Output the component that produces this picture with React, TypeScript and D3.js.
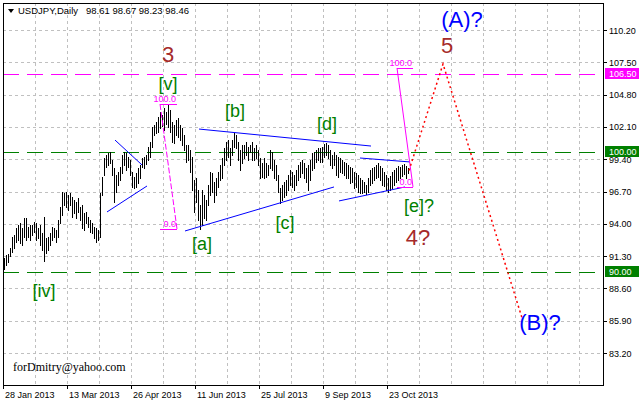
import React from 'react';
import * as d3 from 'd3';

// ---- data ----
const symbolName = 'USDJPY,Daily';
const lastOHLC = [98.61, 98.67, 98.23, 98.46];

const highs = [
  91.14, 91.39, 91.48, 91.98, 92.89, 93.06, 93.65, 93.90, 94.07, 93.65,
  94.48, 94.48, 93.73, 93.90, 93.90, 94.15, 94.07, 93.65, 93.90, 93.23,
  94.57, 92.81, 92.89, 93.23, 93.73, 93.65, 93.48, 94.32, 95.40, 96.66,
  96.58, 96.66, 96.41, 96.58, 96.24, 95.99, 95.82, 96.16, 95.40, 95.57,
  94.90, 94.99, 94.57, 94.32, 94.07, 93.73, 93.65, 93.48, 96.58, 97.91,
  99.50, 99.75, 99.92, 100.00, 99.33, 98.67, 98.08, 98.33, 98.75, 99.75,
  100.00, 99.92, 99.58, 99.33, 98.33, 97.91, 98.25, 98.67, 98.92, 99.50,
  99.58, 99.75, 100.42, 100.84, 102.09, 102.26, 102.51, 102.93, 103.35, 103.10,
  103.68, 103.35, 103.93, 103.51, 102.51, 102.26, 102.68, 102.84, 102.26, 102.01,
  101.42, 100.59, 100.59, 100.17, 99.58, 97.66, 97.83, 96.83, 95.57, 96.83,
  96.41, 95.99, 97.24, 98.33, 98.25, 97.49, 97.83, 98.33, 98.92, 99.50,
  100.34, 100.84, 101.01, 100.34, 101.01, 101.59, 101.42, 100.84, 100.17, 100.59,
  100.59, 100.84, 100.42, 100.59, 100.84, 100.34, 100.59, 100.17, 99.50, 99.08,
  99.50, 99.08, 98.92, 100.17, 100.00, 99.33, 98.92, 98.08, 96.99, 97.24,
  97.49, 97.66, 98.08, 98.50, 98.33, 98.08, 98.50, 98.92, 99.17, 99.33,
  99.08, 98.67, 98.92, 99.33, 99.92, 100.00, 100.17, 100.34, 100.34, 100.42,
  100.67, 100.76, 100.59, 100.17, 99.75, 100.00, 99.75, 99.58, 99.50, 99.33,
  99.17, 99.08, 98.92, 98.75, 98.67, 98.33, 98.25, 98.08, 97.83, 97.66,
  97.49, 97.24, 97.83, 98.50, 98.67, 98.75, 98.92, 99.08, 98.83, 98.67,
  98.33, 98.08, 97.83, 98.00, 98.33, 98.50, 98.67, 98.83, 98.75, 98.92,
  99.00, 98.83, 98.67,
];

const lows = [
  90.22, 90.56, 90.81, 91.31, 91.64, 91.98, 92.48, 92.65, 92.39, 92.23,
  92.89, 92.65, 92.89, 92.65, 93.06, 93.31, 92.65, 92.81, 92.23, 91.81,
  90.89, 91.56, 91.81, 92.23, 92.65, 92.89, 92.48, 92.89, 94.07, 94.74,
  95.57, 95.40, 95.15, 95.57, 94.57, 94.90, 94.48, 94.99, 94.32, 93.65,
  93.48, 94.07, 93.73, 93.31, 93.23, 92.81, 92.48, 92.65, 92.89, 96.41,
  98.08, 98.75, 98.92, 99.08, 98.08, 95.82, 96.66, 97.24, 97.66, 98.25,
  98.92, 98.50, 98.75, 98.08, 97.08, 96.99, 97.08, 97.41, 97.83, 98.75,
  98.67, 99.00, 99.33, 99.58, 100.42, 101.42, 101.59, 101.67, 102.01, 102.18,
  101.84, 102.34, 102.09, 101.67, 100.84, 100.76, 101.42, 101.26, 101.01, 100.59,
  100.17, 99.17, 99.33, 98.33, 96.83, 94.99, 95.82, 94.32, 93.57, 93.90,
  94.48, 94.32, 95.57, 96.41, 96.66, 95.82, 96.41, 97.08, 97.66, 97.83,
  98.92, 99.33, 99.58, 98.92, 99.75, 100.42, 100.34, 99.33, 98.50, 99.08,
  99.50, 99.75, 99.33, 100.00, 99.33, 99.33, 99.50, 98.92, 97.83, 97.91,
  97.83, 97.91, 98.08, 98.67, 98.50, 97.83, 97.66, 96.66, 95.74, 95.99,
  96.24, 96.41, 96.83, 97.24, 97.08, 96.83, 97.24, 97.66, 97.91, 98.25,
  97.83, 97.49, 96.83, 97.66, 98.50, 98.67, 99.17, 99.33, 99.17, 99.17,
  99.58, 99.75, 99.50, 98.92, 98.67, 98.92, 98.08, 97.91, 98.33, 98.25,
  98.08, 97.83, 97.83, 97.41, 97.49, 96.99, 97.08, 96.66, 96.58, 96.58,
  96.66, 96.49, 96.66, 97.24, 97.41, 97.66, 97.83, 97.91, 97.66, 97.24,
  97.16, 96.83, 96.66, 96.83, 96.99, 97.24, 97.49, 97.66, 97.83, 98.00,
  98.16, 97.83, 98.23,
];

const yTickValues = [83.2, 85.9, 88.6, 91.3, 94.0, 96.7, 99.4, 102.1, 104.8, 107.5, 110.2];
const xTickBars = [0, 32, 64, 96, 128, 160, 192];
const xTickLabels = ['28 Jan 2013', '13 Mar 2013', '26 Apr 2013', '11 Jun 2013', '25 Jul 2013', '9 Sep 2013', '23 Oct 2013'];

const levelValues = [106.5, 100.0, 90.0];
const levelNames = ['magenta', 'green', 'green'];

// trend lines: [bar1, price1, bar2, price2]
const trendLines = [
  [55.5, 101.0, 69, 98.92],
  [51.5, 94.99, 71.5, 97.16],
  [97.5, 101.92, 183.5, 100.5],
  [90.5, 93.4, 165, 97.08],
  [178, 99.5, 203, 99.17],
  [167.5, 95.91, 200.5, 97.08],
];

// fibonacci: [bar1, bar2, price100, price0]
const fibs = [
  [78, 86.5, 104.01, 93.57],
  [196.5, 204.5, 107.02, 97.08],
];
const fibDashed = [true, false];

// projection path: [bar, price]
const projection = [
  [202.5, 98.46],
  [219.5, 107.36],
  [259, 86.13],
];

// wave labels
const labelTexts = ['3', '[v]', '[iv]', '[a]', '[b]', '[c]', '[d]', '[e]?', '4?', '5', '(A)?', '(B)?'];
const labelBars = [82, 82, 20, 99, 115.5, 140.5, 161.5, 207.5, 207, 221.5, 229, 268];
const labelPrices = [107.53, 105.2, 87.88, 91.81, 102.93, 93.57, 101.84, 94.99, 92.23, 108.28, 110.45, 85.12];
const labelKinds = ['major', 'minor', 'minor', 'minor', 'minor', 'minor', 'minor', 'minor', 'major', 'major', 'cycle', 'cycle'];

const signature = 'forDmitry@yahoo.com';

export default function App() {
  const W = 639, H = 404;
  const L = 3, R = 603, T = 3, B = 385;
  const x = d3.scaleLinear().domain([0, 300]).range([4, 604]);
  const y = d3.scaleLinear().domain([83.2, 110.2]).range([353, 30]);
  const font = '"Liberation Sans", Arial, sans-serif';
  const c = (v: number) => Math.round(v) + 0.5;
  const gridXs = d3.range(16, 300, 16).map((i) => x(i) - 1).filter((v) => v < R - 1);

  const colorOf: Record<string, string> = { magenta: '#FF00FF', green: '#008000' };
  const kindStyle: Record<string, { fill: string; size: number }> = {
    major: { fill: '#A52A2A', size: 22 },
    minor: { fill: '#008000', size: 18 },
    cycle: { fill: '#0000FF', size: 22 },
  };

  const projLine = d3
    .line<number[]>()
    .x((d) => x(d[0]))
    .y((d) => y(d[1]));

  return (
    <svg
      width={W}
      height={H}
      style={{ position: 'absolute', left: 0, top: 0, background: '#fff' }}
      fontFamily={font}
    >
      <rect x={0} y={0} width={W} height={H} fill="#fff" />
      {/* grid */}
      <g stroke="#c0c0c0" strokeWidth={1} strokeDasharray="3 3" shapeRendering="crispEdges">
        {gridXs.map((gx, k) => (
          <line key={'gx' + k} x1={c(gx)} x2={c(gx)} y1={T} y2={B} />
        ))}
        {yTickValues.map((v, k) => (
          <line key={'gy' + k} x1={L} x2={R} y1={c(y(v))} y2={c(y(v))} />
        ))}
      </g>

      {/* level lines */}
      <g shapeRendering="crispEdges">
        {levelValues.map((v, k) => (
          <line
            key={'lv' + k}
            x1={L}
            x2={R}
            y1={c(y(v))}
            y2={c(y(v))}
            stroke={colorOf[levelNames[k]]}
            strokeWidth={1}
            strokeDasharray="16 8"
          />
        ))}
      </g>

      {/* bars */}
      <g stroke="#000" strokeWidth={1} shapeRendering="crispEdges">
        {highs.map((h, i) => (
          <line key={'b' + i} x1={c(x(i))} x2={c(x(i))} y1={Math.round(y(h))} y2={Math.round(y(lows[i])) + 1} />
        ))}
      </g>

      {/* trend lines */}
      <g stroke="#0000FF" strokeWidth={1}>
        {trendLines.map((t, k) => (
          <line key={'t' + k} x1={x(t[0])} y1={y(t[1])} x2={x(t[2])} y2={y(t[3])} />
        ))}
      </g>

      {/* fibonacci */}
      {fibs.map((f, k) => {
        const x1 = x(f[0]);
        const x2 = x(f[1]);
        const y100 = y(f[2]);
        const y0 = y(f[3]);
        return (
          <g key={'f' + k} stroke="#FF00FF" strokeWidth={1} fill="none">
            <line x1={x1} x2={x2} y1={c(y100)} y2={c(y100)} shapeRendering="crispEdges" />
            <line x1={x1} x2={x2} y1={c(y0)} y2={c(y0)} shapeRendering="crispEdges" />
            <line x1={x1} y1={y100} x2={x2} y2={y0} strokeDasharray={fibDashed[k] ? '6 2' : undefined} />
            <text x={x2 - 1} y={y100 - 2} textAnchor="end" fontSize={9} fill="#FF00FF" stroke="none">
              100.0
            </text>
            <text x={x2 - 1} y={y0 - 2} textAnchor="end" fontSize={9} fill="#FF00FF" stroke="none">
              0.0
            </text>
          </g>
        );
      })}

      {/* projection */}
      <path d={projLine(projection) || ''} fill="none" stroke="#FF0000" strokeWidth={1.5} strokeDasharray="2 3" />

      {/* wave labels */}
      {labelTexts.map((t, k) => {
        const st = kindStyle[labelKinds[k]];
        return (
          <text
            key={'w' + k}
            x={x(labelBars[k])}
            y={y(labelPrices[k])}
            textAnchor="middle"
            fontSize={st.size}
            fill={st.fill}
          >
            {t}
          </text>
        );
      })}

      {/* signature */}
      <text x={13} y={371} fontFamily='"Liberation Serif", "Times New Roman", serif' fontSize={12} fill="#000">
        {signature}
      </text>

      {/* frame */}
      <g stroke="#000" strokeWidth={1} fill="none" shapeRendering="crispEdges">
        <line x1={L + 0.5} x2={L + 0.5} y1={T} y2={B} />
        <line x1={L} x2={R + 1} y1={B + 0.5} y2={B + 0.5} />
        <line x1={R + 0.5} x2={R + 0.5} y1={T} y2={B + 1} />
        <line x1={L} x2={R + 1} y1={T + 0.5} y2={T + 0.5} />
      </g>

      {/* y axis */}
      <g fontSize={9} fill="#000">
        {yTickValues.map((v, k) => (
          <g key={'yt' + k}>
            <line x1={R} x2={R + 4} y1={c(y(v))} y2={c(y(v))} stroke="#000" shapeRendering="crispEdges" />
            <text x={R + 6} y={y(v) + 3.5}>
              {v.toFixed(2)}
            </text>
          </g>
        ))}
      </g>
      {levelValues.map((v, k) => (
        <g key={'lb' + k}>
          <rect x={R + 2} y={Math.round(y(v)) - 6} width={34} height={11} fill={colorOf[levelNames[k]]} />
          <text x={R + 6} y={y(v) + 3} fontSize={9} fill="#fff">
            {v.toFixed(2)}
          </text>
        </g>
      ))}

      {/* x axis */}
      <g fontSize={9} fill="#000">
        {xTickBars.map((b, k) => (
          <g key={'xt' + k}>
            <line x1={c(x(b) - 1)} x2={c(x(b) - 1)} y1={B} y2={B + 4} stroke="#000" shapeRendering="crispEdges" />
            <text x={x(b) + 1} y={398}>
              {xTickLabels[k]}
            </text>
          </g>
        ))}
      </g>

      {/* header */}
      <polygon points="8,9 14,9 11,13" fill="#000" />
      <text x={18} y={14} fontSize={9.5} fill="#000">
        {symbolName}
      </text>
      <text x={86} y={14} fontSize={9.5} fill="#000">
        {lastOHLC.map((v) => v.toFixed(2)).join(' ')}
      </text>
    </svg>
  );
}
